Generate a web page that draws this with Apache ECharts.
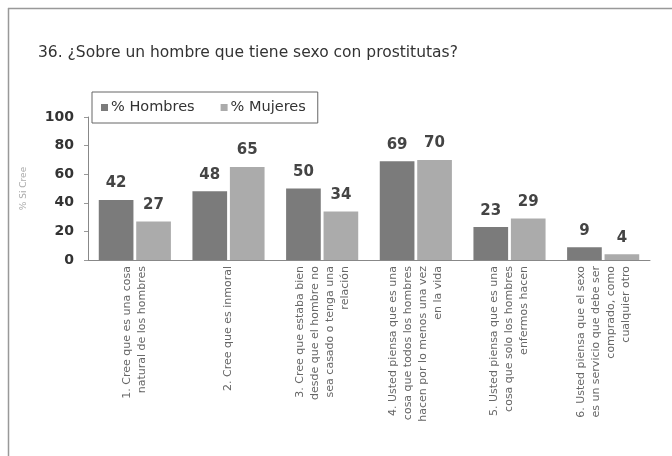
<!DOCTYPE html>
<html>
<head>
<meta charset="utf-8">
<script src="https://cdn.jsdelivr.net/npm/echarts@6/dist/echarts.min.js"></script>
<style>
  html, body { margin: 0; padding: 0; background: #fff; }
  #chart { width: 672px; height: 456px; }
</style>
</head>
<body>
<div id="chart"></div>
<script>
// datos
const categories = [
  "1. Cree que es una cosa\nnatural de los hombres",
  "2. Cree que es inmoral",
  "3. Cree que estaba bien\ndesde que el hombre no\nsea casado o tenga una\nrelación",
  "4. Usted piensa que es una\ncosa que todos los hombres\nhacen por lo menos una vez\nen la vida",
  "5. Usted piensa que es una\ncosa que solo los hombres\nenfermos hacen",
  "6. Usted piensa que el sexo\nes un servicio que debe ser\ncomprado, como\ncualquier otro"
];
const hombres = [42, 48, 50, 69, 23, 9];
const mujeres = [27, 65, 34, 70, 29, 4];
const yTicks = [0, 20, 40, 60, 80, 100];

const font = "DejaVu Sans";
const chart = echarts.init(document.getElementById("chart"));

const valueLabel = {
  show: true,
  position: "top",
  distance: 9,
  fontSize: 15,
  fontWeight: "bold",
  color: "#444",
  fontFamily: font
};

const option = {
  animation: false,
  backgroundColor: "#fff",
  textStyle: { fontFamily: font },
  title: {
    text: "36. ¿Sobre un hombre que tiene sexo con prostitutas?",
    left: 33,
    top: 40,
    textStyle: { fontFamily: font, fontSize: 15.5, fontWeight: "normal", color: "#333" }
  },
  legend: {
    left: 92,
    top: 92,
    orient: "horizontal",
    padding: [8, 12, 8, 9],
    borderColor: "#666",
    borderWidth: 1,
    itemWidth: 7,
    itemHeight: 7,
    itemGap: 26,
    icon: "rect",
    textStyle: { fontFamily: font, fontSize: 14.5, color: "#333", padding: [0, 0, 0, -2] },
    data: ["% Hombres", "% Mujeres"]
  },
  grid: { left: 88, right: 22, top: 117, bottom: 196 },
  xAxis: {
    type: "category",
    data: categories,
    axisLine: { lineStyle: { color: "#888", width: 1 } },
    axisTick: { show: false },
    axisLabel: {
      interval: 0,
      rotate: 90,
      margin: 6,
      fontSize: 11,
      lineHeight: 15,
      color: "#666",
      fontFamily: font
    }
  },
  yAxis: {
    type: "value",
    min: 0,
    max: 100,
    interval: 20,
    name: "% Si Cree",
    nameLocation: "middle",
    nameGap: 60,
    nameRotate: 90,
    nameTextStyle: { color: "#aaa", fontSize: 9, fontFamily: font },
    axisLine: { show: true, lineStyle: { color: "#888" } },
    axisTick: { show: true, length: 4, lineStyle: { color: "#999" } },
    splitLine: { show: false },
    axisLabel: {
      margin: 14,
      fontSize: 14,
      fontWeight: "bold",
      color: "#333",
      fontFamily: font,
      formatter: v => (yTicks.includes(v) ? String(v) : "")
    }
  },
  series: [
    {
      name: "% Hombres",
      type: "bar",
      data: hombres,
      barGap: "8%",
      barCategoryGap: "23%",
      itemStyle: { color: "#7b7b7b" },
      label: valueLabel
    },
    {
      name: "% Mujeres",
      type: "bar",
      data: mujeres,
      itemStyle: { color: "#ababab" },
      label: valueLabel
    }
  ],
  graphic: [
    // marco de la figura (solo arriba e izquierda se ven)
    { type: "line", shape: { x1: 8, y1: 8.5, x2: 672, y2: 8.5 }, style: { stroke: "#999", lineWidth: 1.5 } },
    { type: "line", shape: { x1: 8.5, y1: 8, x2: 8.5, y2: 456 }, style: { stroke: "#999", lineWidth: 1.5 } }
  ]
};

chart.setOption(option);
window.addEventListener("resize", () => {
  chart.resize();
});
</script>
</body>
</html>
